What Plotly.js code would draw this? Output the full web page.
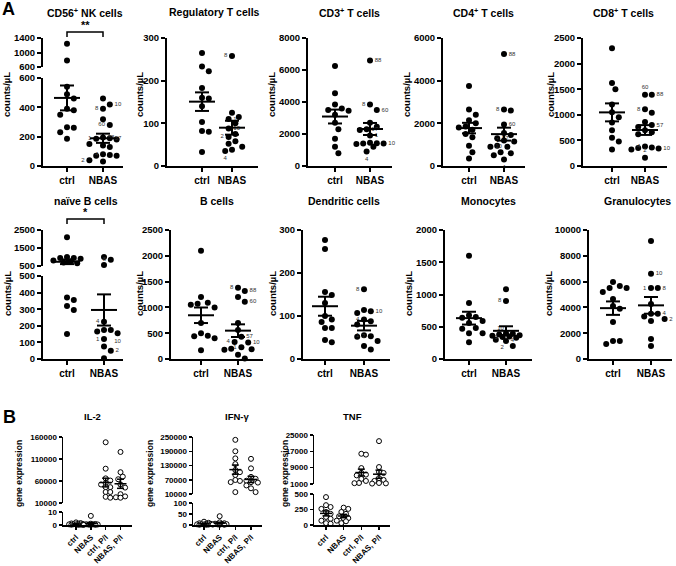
<!DOCTYPE html>
<html><head><meta charset="utf-8">
<script src="https://cdn.plot.ly/plotly-3.0.1.min.js"></script>
<style>html,body{margin:0;padding:0;background:#fff}#chart{width:676px;height:566px}</style>
</head><body><div id="chart"></div>
<script>
// ---------------- DATA ----------------
const catsA = ['ctrl', 'NBAS'];
const catsB = ['ctrl', 'NBAS', 'ctrl, P/I', 'NBAS, P/I'];

const nkCtrl = [1240, 780, 540, 490, 460, 390, 380, 350, 265, 260, 230, 185];
const nkNbas = [460, 420, 390, 318, 280, 195, 190, 185, 180, 150, 140, 130, 80, 75, 70, 70, 40, 30];
const nkLbl  = ['', '10', '8', '', '60', '88', '57', '1', '', '', '', '', '4', '', '', '', '2', ''];

const tregCtrl = [265, 233, 222, 183, 160, 158, 140, 103, 82, 80, 33];
const tregNbas = [258, 125, 115, 110, 100, 88, 75, 68, 58, 52, 45, 38, 35];
const tregLbl  = ['8', '', '', '1', '', '10', '', '2', '', '', '', '', '4'];

const cd3Ctrl = [6250, 4550, 3850, 3600, 3500, 3450, 3200, 2700, 2300, 1700, 1200, 800];
const cd3Nbas = [6600, 3850, 3500, 2700, 2450, 2300, 2250, 1900, 1450, 1420, 1400, 1400, 1380, 1200, 900];
const cd3Lbl  = ['88', '8', '60', '', '', '57', '', '1', '', '', '', '10', '', '', '4'];

const cd4Ctrl = [3750, 2650, 2400, 2150, 2000, 1850, 1800, 1700, 1500, 1350, 950, 650, 350];
const cd4Nbas = [5250, 2650, 2600, 1950, 1550, 1450, 1300, 1200, 1150, 950, 900, 900, 650, 600, 500, 300];
const cd4Lbl  = ['88', '8', '', '60', '', '', '57', '1', '', '', '', '10', '', '', '', '4'];

const cd8Ctrl = [2300, 1620, 1500, 1200, 1050, 950, 850, 700, 550, 480, 320];
const cd8Nbas = [1390, 1390, 1110, 1040, 860, 800, 760, 700, 660, 620, 380, 360, 350, 340, 320, 160];
const cd8Lbl  = ['60', '88', '8', '', '', '57', '', '1', '', '', '4', '', '', '10', '', '2'];

const nbCtrl = [2100, 1000, 950, 950, 900, 800, 750, 700, 650, 370, 355, 320, 295, 150];
const nbNbas = [1000, 850, 550, 225, 175, 175, 165, 155, 120, 75, 50, 5];
const nbLbl  = ['', '8', '', '4', '', '', '', '10', '1', '', '2', ''];

const bCtrl = [2100, 1200, 1090, 1070, 1050, 1000, 700, 500, 450, 440, 400, 170];
const bNbas = [1380, 1320, 1200, 1110, 700, 560, 430, 330, 320, 230, 200, 190, 180, 80, 10];
const bLbl  = ['8', '88', '', '60', '', '', '57', '4', '10', '1', '', '', '', '', ''];

const dcCtrl = [277, 256, 156, 149, 130, 100, 92, 86, 72, 72, 44, 39];
const dcNbas = [162, 114, 111, 107, 92, 88, 80, 55, 53, 52, 42, 30, 22];
const dcLbl  = ['8', '', '10', '', '4', '', '', '1', '', '2', '', '', ''];

const monoCtrl = [1600, 870, 680, 650, 640, 590, 560, 480, 470, 400, 400, 260];
const monoNbas = [1080, 900, 400, 390, 380, 370, 360, 350, 340, 330, 300, 280, 200];
const monoLbl  = ['', '8', '', '', '', '', '10', '', '1', '', '2', '4', ''];

const granCtrl = [5970, 5650, 5500, 5500, 5200, 4650, 4100, 3900, 2870, 1400, 1400, 1160];
const granNbas = [9150, 6600, 5500, 5500, 4260, 3500, 3500, 3300, 3100, 2950, 1550, 1000];
const granLbl  = ['', '10', '1', '8', '', '', '4', '', '2', '', '', ''];

const il2Ctrl   = [2, 1.5, 1.2, 1, 0.8, 0.6, 0.5, 0.4, 0.3, 0.2, 0.1, 0.1];
const il2Nbas   = [7, 1, 0.8, 0.6, 0.5, 0.4, 0.3, 0.2, 0.1, 0.1];
const il2CtrlPI = [148000, 88000, 66000, 61000, 55000, 52000, 46000, 46000, 35000, 35000, 24000, 22000];
const il2NbasPI = [126000, 80000, 70000, 64000, 52000, 45000, 30000, 25000, 23000, 22000];

const ifnCtrl   = [15, 10, 8, 6, 5, 4, 3, 2, 2, 1, 1];
const ifnNbas   = [40, 12, 8, 6, 5, 4, 3, 2, 1, 1];
const ifnCtrlPI = [238000, 190000, 160000, 136000, 111000, 102000, 90000, 69000, 65000, 60000, 18000];
const ifnNbasPI = [158000, 118000, 82000, 74000, 66000, 60000, 58000, 46000, 34000, 18000];

const tnfCtrl   = [450, 320, 290, 260, 210, 180, 130, 100, 70, 30, 20];
const tnfNbas   = [280, 260, 210, 180, 140, 110, 110, 70, 60, 30];
const tnfCtrlPI = [15800, 15400, 8800, 6400, 5600, 5200, 3500, 2500, 1500, 1400];
const tnfNbasPI = [22000, 9300, 6900, 6400, 3900, 3000, 2500, 1500, 1300, 1200];

// tick labels
const nkTicksHigh = [600, 1000, 1400], nkTicksLow = [0, 200, 400, 600];
const tregTicks = [0, 100, 200, 300];
const cd3Ticks = [0, 2000, 4000, 6000, 8000];
const cd4Ticks = [0, 2000, 4000, 6000];
const cd8Ticks = [0, 500, 1000, 1500, 2000, 2500];
const nbTicksHigh = [500, 1500, 2500], nbTicksLow = [0, 100, 200, 300, 400, 500];
const bTicks = [0, 500, 1000, 1500, 2000, 2500];
const dcTicks = [0, 100, 200, 300];
const monoTicks = [0, 500, 1000, 1500, 2000];
const granTicks = [0, 2000, 4000, 6000, 8000, 10000];
const il2TicksHigh = [10000, 60000, 110000, 160000], il2TicksLow = [0, 10];
const ifnTicksHigh = [10000, 70000, 130000, 190000, 250000], ifnTicksLow = [0, 50, 100];
const tnfTicksHigh = [1000, 9000, 17000, 25000], tnfTicksLow = [0, 250, 500];

// ---------------- BUILD ----------------
const W = 676, H = 566;
const FONT = '"Liberation Sans", Arial, Helvetica, sans-serif';
const traces = [];
const layout = {
  width: W, height: H, margin: {l: 0, r: 0, t: 0, b: 0}, showlegend: false,
  paper_bgcolor: '#fff', plot_bgcolor: 'rgba(0,0,0,0)', font: {family: FONT, color: '#000'},
  annotations: [], shapes: []
};
const px = p => p / W, py = p => 1 - p / H;
function ann(text, x, y, size, opt) {
  layout.annotations.push(Object.assign({text, x: px(x), y: py(y), xref: 'paper', yref: 'paper', showarrow: false,
    xanchor: 'center', yanchor: 'middle', font: {family: FONT, size, color: '#000', weight: 700}}, opt || {}));
}
let nx = 0, ny = 0;
const axName = (k, n) => k + 'axis' + (n === 1 ? '' : n);
const axRef = (k, n) => k + (n === 1 ? '' : n);

function swarm(pys, D, maxHalf) {
  const order = pys.map((p, i) => i).sort((a, b) => pys[a] - pys[b]);
  const placed = [], off = new Array(pys.length).fill(0);
  order.forEach(i => {
    const y = pys[i];
    let best = 0, bestD = -1;
    for (let k = 0; k < 400; k++) {
      const cand = k === 0 ? 0 : (k % 2 ? 1 : -1) * Math.ceil(k / 2) * D / 2;
      if (Math.abs(cand) > maxHalf) break;
      let md = Infinity;
      placed.forEach(p => { md = Math.min(md, Math.hypot(p.x - cand, p.y - y)); });
      if (md >= D) { best = cand; break; }
      if (md > bestD) { bestD = md; best = cand; }
    }
    off[i] = best; placed.push({x: best, y});
  });
  return off;
}

function panel(cfg) {
  nx++; const xn = nx, xr = axRef('x', xn);
  const n = cfg.catPx.length;
  const unit = (cfg.catPx[n - 1] - cfg.catPx[0]) / (n - 1);
  const r0 = -(cfg.catPx[0] - cfg.axisPx) / unit, r1 = (n - 1) + (cfg.endPx - cfg.catPx[n - 1]) / unit;
  const segs = cfg.segs.map(s => { ny++; return Object.assign({yn: ny, yr: axRef('y', ny), lo: s.ticks[0], hi: s.ticks[s.ticks.length - 1]}, s); });
  const sorted = segs.slice().sort((a, b) => a.lo - b.lo);
  const low = sorted[0];
  const common = {showline: true, linecolor: '#000', linewidth: cfg.lw, ticks: 'outside', ticklen: cfg.tl, tickwidth: cfg.lw,
    tickcolor: '#000', showgrid: false, zeroline: false, fixedrange: true, tickmode: 'array'};
  layout[axName('x', xn)] = Object.assign({}, common, {domain: [px(cfg.axisPx), px(cfg.endPx)], range: [r0, r1], anchor: low.yr,
    tickvals: cfg.cats.map((c, i) => i), ticktext: cfg.cats, tickangle: cfg.angle || 0,
    tickfont: {family: FONT, size: cfg.xfs, color: '#000', weight: 700}});
  segs.forEach(s => {
    layout[axName('y', s.yn)] = Object.assign({}, common, {domain: [py(s.bottom), py(s.top)], range: [s.lo, s.hi], anchor: xr,
      tickvals: s.ticks, ticktext: s.ticks.map(String), tickfont: {family: FONT, size: cfg.yfs, color: '#000', weight: 700}});
  });
  const segOf = v => { for (const s of sorted) { if (v <= s.hi) return s; } return sorted[sorted.length - 1]; };
  const toPx = v => { const s = segOf(v); return s.bottom - (v - s.lo) / (s.hi - s.lo) * (s.bottom - s.top); };
  const posMap = {l: 'middle left', r: 'middle right', b: 'bottom center', t: 'top center', br: 'bottom right', bl: 'bottom left', tr: 'top right'};
  cfg.groups.forEach((g, gi) => {
    const offs = swarm(g.vals.map(toPx), cfg.dia, cfg.maxHalf);
    sorted.forEach(s => {
      const idx = g.vals.map((v, i) => i).filter(i => segOf(g.vals[i]) === s);
      if (!idx.length) return;
      const tr = {type: 'scatter', mode: 'markers', xaxis: xr, yaxis: s.yr, cliponaxis: false, hoverinfo: 'skip',
        x: idx.map(i => gi + offs[i] / unit), y: idx.map(i => g.vals[i]),
        marker: cfg.open ? {size: cfg.ms, color: '#fff', line: {color: '#000', width: 1}} : {size: cfg.ms, color: '#000', line: {width: 0}}};
      if (g.labels) {
        tr.mode = 'markers+text';
        tr.text = idx.map(i => g.labels[i]);
        tr.textposition = idx.map(i => posMap[(cfg.sides || {})[g.labels[i]] || 'r']);
        tr.textfont = {family: FONT, size: 6, color: '#333'};
      }
      traces.push(tr);
    });
    const nv = g.vals.length, m = g.vals.reduce((a, b) => a + b, 0) / nv;
    const sd = Math.sqrt(g.vals.reduce((a, b) => a + (b - m) * (b - m), 0) / (nv - 1));
    const se = sd / Math.sqrt(nv), s = segOf(m);
    const mh = cfg.meanHalf / unit, ch = cfg.capHalf / unit, c = gi;
    traces.push({type: 'scatter', mode: 'lines', xaxis: xr, yaxis: s.yr, hoverinfo: 'skip',
      x: [c - mh, c + mh, null, c, c, null, c - ch, c + ch, null, c - ch, c + ch],
      y: [m, m, null, m - se, m + se, null, m + se, m + se, null, m - se, m - se],
      line: {color: '#000', width: cfg.lw}});
  });
  if (cfg.title) ann(cfg.title[0], cfg.title[1], cfg.title[2], cfg.tfs);
  if (cfg.ytitle) ann(cfg.ytitle[0], cfg.ytitle[1], cfg.ytitle[2], cfg.ytfs, {textangle: -90});
  if (cfg.sig) {
    const sg = cfg.sig;
    layout.shapes.push({type: 'path', xref: xr, yref: 'paper', line: {color: '#000', width: 1.5},
      path: `M 0,${py(sg.tickY)} L 0,${py(sg.barY)} L 1,${py(sg.barY)} L 1,${py(sg.tickY)}`});
    layout.annotations.push({text: sg.txt, x: 0.5, xref: xr, y: py(sg.y), yref: 'paper', showarrow: false,
      xanchor: 'center', yanchor: 'middle', font: {family: FONT, size: 11, color: '#000', weight: 700}});
  }
}

const styleA = {lw: 2, tl: 4, xfs: 10, yfs: 9.5, tfs: 10.5, ytfs: 9.5, ms: 6, dia: 6.8, maxHalf: 15, meanHalf: 13, capHalf: 7, cats: catsA};
const styleB = {lw: 1.5, tl: 3, xfs: 8, yfs: 8, tfs: 9.5, ytfs: 8.5, ms: 5, dia: 4.6, maxHalf: 7, meanHalf: 6, capHalf: 3.5, cats: catsB, open: true, angle: -45};
const ctitle = 'counts/µL';
const r1 = (t) => [{top: 38, bottom: 166, ticks: t}];
const r2 = (t) => [{top: 230, bottom: 359, ticks: t}];

panel(Object.assign({}, styleA, {axisPx: 43, catPx: [67, 103], endPx: 123,
  segs: [{top: 38, bottom: 67, ticks: nkTicksHigh}, {top: 78, bottom: 166, ticks: nkTicksLow}],
  groups: [{vals: nkCtrl}, {vals: nkNbas, labels: nkLbl}], sides: {'8': 'l', '60': 'l', '1': 'l', '4': 'l', '2': 'l'},
  title: ['CD56<sup>+</sup> NK cells', 85, 12], ytitle: [ctitle, 7, 95], sig: {txt: '**', y: 25, barY: 32, tickY: 37}}));
panel(Object.assign({}, styleA, {axisPx: 167, catPx: [202, 232], endPx: 258, segs: r1(tregTicks),
  groups: [{vals: tregCtrl}, {vals: tregNbas, labels: tregLbl}], sides: {'8': 'l', '2': 'l', '4': 'b'},
  title: ['Regulatory T cells', 214, 12], ytitle: [ctitle, 140, 95]}));
panel(Object.assign({}, styleA, {axisPx: 308, catPx: [335, 370], endPx: 392, segs: r1(cd3Ticks),
  groups: [{vals: cd3Ctrl}, {vals: cd3Nbas, labels: cd3Lbl}], sides: {'8': 'l', '4': 'b'},
  title: ['CD3<sup>+</sup> T cells', 349, 12], ytitle: [ctitle, 272, 95]}));
panel(Object.assign({}, styleA, {axisPx: 443, catPx: [469, 504], endPx: 525, segs: r1(cd4Ticks),
  groups: [{vals: cd4Ctrl}, {vals: cd4Nbas, labels: cd4Lbl}], sides: {'8': 'l', '1': 'l', '4': 'b'},
  title: ['CD4<sup>+</sup> T cells', 483, 12], ytitle: [ctitle, 407, 95]}));
panel(Object.assign({}, styleA, {axisPx: 583, catPx: [612, 645], endPx: 667, segs: r1(cd8Ticks),
  groups: [{vals: cd8Ctrl}, {vals: cd8Nbas, labels: cd8Lbl}], sides: {'60': 't', '8': 'l', '1': 'l', '4': 'l', '2': 't'},
  title: ['CD8<sup>+</sup> T cells', 623, 12], ytitle: [ctitle, 551, 95]}));

panel(Object.assign({}, styleA, {axisPx: 43, catPx: [67, 104], endPx: 123,
  segs: [{top: 230, bottom: 266, ticks: nbTicksHigh}, {top: 276, bottom: 359, ticks: nbTicksLow}],
  groups: [{vals: nbCtrl}, {vals: nbNbas, labels: nbLbl}], sides: {'8': 'l', '4': 'l', '1': 'l', '10': 'b'},
  title: ['naïve B cells', 86, 201], ytitle: [ctitle, 7, 294], sig: {txt: '*', y: 212, barY: 219, tickY: 224}}));
panel(Object.assign({}, styleA, {axisPx: 171, catPx: [201, 238], endPx: 263, segs: r2(bTicks),
  groups: [{vals: bCtrl}, {vals: bNbas, labels: bLbl}], sides: {'8': 'l', '4': 'l', '1': 'l'},
  title: ['B cells', 217, 201], ytitle: [ctitle, 139, 294]}));
panel(Object.assign({}, styleA, {axisPx: 303, catPx: [325, 364], endPx: 390, segs: r2(dcTicks),
  groups: [{vals: dcCtrl}, {vals: dcNbas, labels: dcLbl}], sides: {'8': 'l', '4': 'l', '1': 'l'},
  title: ['Dendritic cells', 344, 201], ytitle: [ctitle, 272, 294]}));
panel(Object.assign({}, styleA, {axisPx: 445, catPx: [469, 506], endPx: 532, segs: r2(monoTicks),
  groups: [{vals: monoCtrl}, {vals: monoNbas, labels: monoLbl}], sides: {'8': 'l', '1': 'l', '2': 'br', '4': 'r', '10': 'tr'},
  title: ['Monocytes', 488, 201], ytitle: [ctitle, 408, 294]}));
panel(Object.assign({}, styleA, {axisPx: 589, catPx: [613, 651], endPx: 672, segs: r2(granTicks),
  groups: [{vals: granCtrl}, {vals: granNbas, labels: granLbl}], sides: {'1': 'l'},
  title: ['Granulocytes', 637, 201], ytitle: [ctitle, 548, 294]}));

const gtitle = 'gene expression';
panel(Object.assign({}, styleB, {axisPx: 63, catPx: [76, 90.5, 105, 120.5], endPx: 132,
  segs: [{top: 437, bottom: 503, ticks: il2TicksHigh}, {top: 512, bottom: 525, ticks: il2TicksLow}],
  groups: [{vals: il2Ctrl}, {vals: il2Nbas}, {vals: il2CtrlPI}, {vals: il2NbasPI}],
  title: ['IL-2', 92, 416], ytitle: [gtitle, 19, 474]}));
panel(Object.assign({}, styleB, {axisPx: 193, catPx: [204, 220, 236, 251], endPx: 262,
  segs: [{top: 437, bottom: 494, ticks: ifnTicksHigh}, {top: 503, bottom: 525, ticks: ifnTicksLow}],
  groups: [{vals: ifnCtrl}, {vals: ifnNbas}, {vals: ifnCtrlPI}, {vals: ifnNbasPI}],
  title: ['IFN-γ', 237, 416], ytitle: [gtitle, 150, 474]}));
panel(Object.assign({}, styleB, {axisPx: 314, catPx: [326, 344, 362, 379], endPx: 390,
  segs: [{top: 435, bottom: 484, ticks: tnfTicksHigh}, {top: 494, bottom: 525, ticks: tnfTicksLow}],
  groups: [{vals: tnfCtrl}, {vals: tnfNbas}, {vals: tnfCtrlPI}, {vals: tnfNbasPI}],
  title: ['TNF', 353, 416], ytitle: [gtitle, 285, 474]}));

ann('A', 8, 9, 18);
ann('B', 9, 417, 18);

Plotly.newPlot('chart', traces, layout, {staticPlot: true, displayModeBar: false});
</script></body></html>
